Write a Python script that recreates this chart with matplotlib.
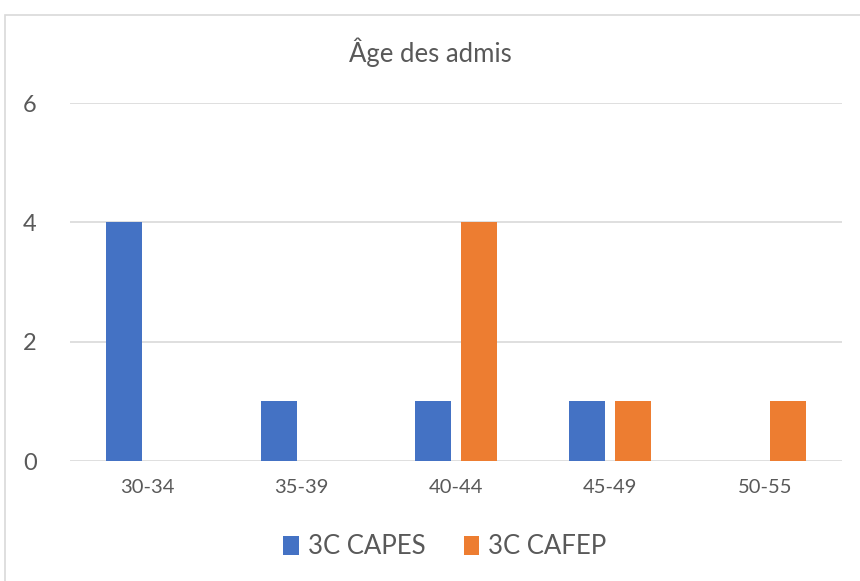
import matplotlib
matplotlib.use("Agg")
import matplotlib.pyplot as plt
import numpy as np
from matplotlib.patches import Rectangle

categories = ["30-34", "35-39", "40-44", "45-49", "50-55"]
capes = [4, 1, 1, 1, 0]
cafep = [0, 0, 4, 1, 1]
series_names = ["3C CAPES", "3C CAFEP"]
yticks = [0, 2, 4, 6]
title = "Âge des admis"

plt.rcParams['font.family'] = ['Lato', 'DejaVu Sans']

fig = plt.figure(figsize=(8.6, 5.81), dpi=100)
ax = fig.add_axes([70/860, 1-461/581, (842-70)/860, (461-103)/581])

x = np.arange(len(categories))
w = 0.233
off = 0.149
b1 = ax.bar(x - off, capes, w, color="#4472C4", label=series_names[0], zorder=3)
b2 = ax.bar(x + off, cafep, w, color="#ED7D31", label=series_names[1], zorder=3)

ax.set_xlim(-0.5, len(categories) - 0.5)
ax.set_ylim(0, 6)
ax.set_yticks(yticks)
ax.set_xticks(x)
ax.set_xticklabels(categories)
ax.tick_params(axis='both', length=0, colors="#595959")
ax.tick_params(axis='y', labelsize=17, pad=24)
ax.tick_params(axis='x', labelsize=14.5, pad=13)
for s in ax.spines.values():
    s.set_visible(False)
ax.grid(axis='y', color="#D9D9D9", linewidth=1.2, zorder=0)
ax.set_axisbelow(True)

fig.text(0.5, 1-52/581, title, ha='center', va='center', fontsize=18.5, color="#595959")

fig.legend(handles=[b1, b2], labels=series_names, loc='center', bbox_to_anchor=(445/860, 1-547/581),
           ncol=2, frameon=False, fontsize=18.5, labelcolor="#595959",
           handlelength=0.6, handleheight=0.75, handletextpad=0.35, columnspacing=1.5)

fig.patches.append(Rectangle((5/860, -0.1), 1.2, 1-15/581+0.1, transform=fig.transFigure,
                             fill=False, edgecolor="#D9D9D9", linewidth=1.2, zorder=0))

fig.savefig("out.png", dpi=100)
